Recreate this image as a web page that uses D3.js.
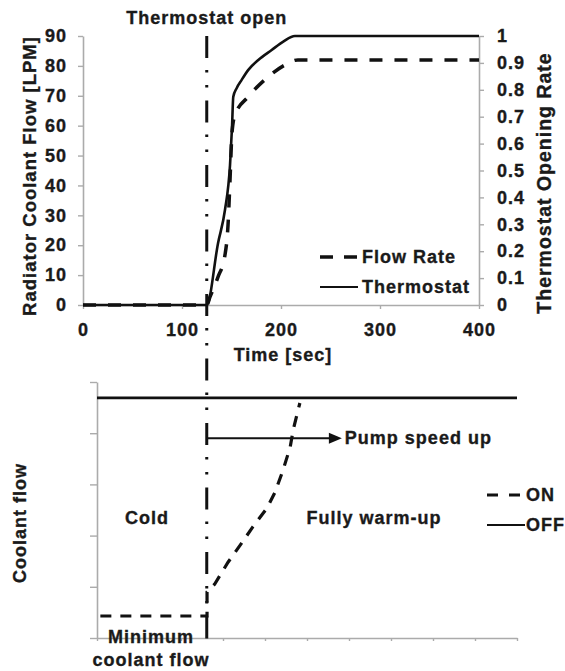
<!DOCTYPE html>
<html><head><meta charset="utf-8">
<script src="https://cdn.jsdelivr.net/npm/d3@7"></script>
<style>
html,body{margin:0;padding:0;background:#fff;}
svg{display:block;}
text{font-family:"Liberation Sans",Arial,sans-serif;font-weight:bold;fill:#1a1a1a;letter-spacing:1px;stroke:#1a1a1a;stroke-width:0.35px;}
</style></head><body>
<svg id="c" width="565" height="671"></svg>
<script>
// ---- top chart data ----
const timeTicks = [0, 100, 200, 300, 400];
const flowTicks = [0, 10, 20, 30, 40, 50, 60, 70, 80, 90];
const rateTicks = [0, 0.1, 0.2, 0.3, 0.4, 0.5, 0.6, 0.7, 0.8, 0.9, 1];
const rateTickLabels = ["0", "0.1", "0.2", "0.3", "0.4", "0.5", "0.6", "0.7", "0.8", "0.9", "1"];
const thermoTime = [0, 125, 136.4, 143.4, 148.5, 150.5, 151.8, 155.2, 160.3, 167, 177.1, 190.6, 202.3, 214, 400];
const thermoRate = [0, 0, 0.23, 0.353, 0.52, 0.66, 0.774, 0.806, 0.837, 0.874, 0.911, 0.948, 0.979, 1, 1];
const flowTime = [0, 125, 128.3, 136.4, 143.4, 146.5, 148.5, 150.5, 153.5, 166.7, 186.9, 204, 217, 400];
const flowRate = [0, 0, 2.7, 9.4, 16.7, 26.8, 41.8, 57.5, 63.6, 69.6, 76.3, 80.3, 82, 82];
const thermostatOpenTime = 125;
const topLegend = ["Flow Rate", "Thermostat"];

// ---- bottom schematic data (relative units) ----
const schemXTicks = [0, 1, 2, 3, 4, 5, 6, 7, 8, 9, 10];
const schemYTicks = [0, 1, 2, 3, 4, 5];
const onX = [0.08, 2.62, 2.62, 2.8, 3.12, 3.45, 3.71, 4.05, 4.24, 4.43, 4.6, 4.67, 4.83];
const onY = [0.43, 0.43, 0.9, 1.05, 1.48, 1.86, 2.17, 2.54, 2.85, 3.28, 3.73, 4.06, 4.59];
const offX = [0, 10];
const offY = [4.69, 4.69];
const pumpArrow = {y: 3.9, end: 5.83};
const bottomLegend = ["ON", "OFF"];

const svg = d3.select("#c");
const axisColor = "#ababab";

// ---- scales ----
const x = d3.scaleLinear().domain([0, 400]).range([83, 479]);
const yL = d3.scaleLinear().domain([0, 90]).range([305, 36]);
const yR = d3.scaleLinear().domain([0, 1]).range([305, 36]);
const xb = d3.scaleLinear().domain([0, 10]).range([97, 517]);
const yb = d3.scaleLinear().domain([0, 5]).range([638, 382]);

function styleAxis(g) {
  g.selectAll("path.domain").attr("stroke", axisColor).attr("stroke-width", 1.6);
  g.selectAll(".tick line").attr("stroke", axisColor).attr("stroke-width", 1.4);
  g.selectAll(".tick text").attr("font-size", 18).attr("fill", "#1a1a1a")
    .attr("font-family", '"Liberation Sans",Arial,sans-serif').attr("font-weight", "bold");
}

// top axes
svg.append("g").attr("transform", "translate(0,305)")
  .call(d3.axisBottom(x).tickValues(timeTicks).tickSize(4).tickPadding(14).tickSizeOuter(0))
  .call(styleAxis);
svg.append("g").attr("transform", "translate(83,0)")
  .call(d3.axisLeft(yL).tickValues(flowTicks).tickSize(5).tickPadding(11).tickSizeOuter(0))
  .call(styleAxis);
svg.append("g").attr("transform", "translate(479,0)")
  .call(d3.axisRight(yR).tickValues(rateTicks).tickFormat((d, i) => rateTickLabels[i]).tickSize(5).tickPadding(13).tickSizeOuter(0))
  .call(styleAxis);

// axis titles
svg.append("text").attr("x", 283).attr("y", 355).attr("text-anchor", "middle")
  .attr("dominant-baseline", "central").attr("font-size", 18).text("Time [sec]");
svg.append("text").attr("transform", "translate(29,176) rotate(-90)").attr("text-anchor", "middle")
  .attr("dominant-baseline", "central").attr("font-size", 18.5).text("Radiator Coolant Flow [LPM]");
svg.append("text").attr("transform", "translate(544,183) rotate(-90)").attr("text-anchor", "middle")
  .attr("dominant-baseline", "central").attr("font-size", 19.5).text("Thermostat Opening Rate");
svg.append("text").attr("x", x(thermostatOpenTime)).attr("y", 18).attr("text-anchor", "middle")
  .attr("dominant-baseline", "central").attr("font-size", 18).text("Thermostat open");

// top lines
const thermoData = thermoTime.map((t, i) => [t, thermoRate[i]]);
const flowData = flowTime.map((t, i) => [t, flowRate[i]]);
svg.append("path").datum(flowData)
  .attr("d", d3.line().x(d => x(d[0])).y(d => yL(d[1])).curve(d3.curveMonotoneX))
  .attr("fill", "none").attr("stroke", "#111").attr("stroke-width", 3.5).attr("stroke-dasharray", "13,12");
svg.append("path").datum(thermoData)
  .attr("d", d3.line().x(d => x(d[0])).y(d => yR(d[1])).curve(d3.curveMonotoneX))
  .attr("fill", "none").attr("stroke", "#111").attr("stroke-width", 2.6);

// top legend
const tl = svg.append("g");
tl.append("line").attr("x1", 320).attr("x2", 357).attr("y1", 257).attr("y2", 257)
  .attr("stroke", "#111").attr("stroke-width", 3.5).attr("stroke-dasharray", "13,11");
tl.append("text").attr("x", 362).attr("y", 257).attr("dominant-baseline", "central").attr("font-size", 18).text(topLegend[0]);
tl.append("line").attr("x1", 320).attr("x2", 358).attr("y1", 287).attr("y2", 287)
  .attr("stroke", "#111").attr("stroke-width", 2.2);
tl.append("text").attr("x", 362).attr("y", 287).attr("dominant-baseline", "central").attr("font-size", 18).text(topLegend[1]);

// ---- bottom schematic ----
svg.append("g").attr("transform", "translate(97,0)")
  .call(d3.axisLeft(yb).tickValues(schemYTicks).tickSize(7).tickFormat("").tickSizeOuter(0))
  .call(styleAxis);
svg.append("g").attr("transform", "translate(0,638)")
  .call(d3.axisBottom(xb).tickValues(schemXTicks).tickSize(3).tickFormat("").tickSizeOuter(0))
  .call(styleAxis);

// OFF line
svg.append("path").datum(offX.map((v, i) => [v, offY[i]]))
  .attr("d", d3.line().x(d => xb(d[0])).y(d => yb(d[1])))
  .attr("fill", "none").attr("stroke", "#111").attr("stroke-width", 2.6);
// ON line
svg.append("path").datum(onX.map((v, i) => [v, onY[i]]))
  .attr("d", d3.line().x(d => xb(d[0])).y(d => yb(d[1])))
  .attr("fill", "none").attr("stroke", "#111").attr("stroke-width", 3.2).attr("stroke-dasharray", "11,9");

// Thermostat open vertical dash-dot-dot line
const xo = x(thermostatOpenTime);
svg.append("line").attr("x1", xo).attr("x2", xo).attr("y1", 36).attr("y2", 640)
  .attr("stroke", "#111").attr("stroke-width", 3).attr("stroke-dasharray", "22,12,2.5,12.5,2.5,13");

// pump arrow
const ay = yb(pumpArrow.y), ax2 = xb(pumpArrow.end);
svg.append("line").attr("x1", xo).attr("x2", ax2 - 10).attr("y1", ay).attr("y2", ay)
  .attr("stroke", "#111").attr("stroke-width", 2);
svg.append("path").attr("d", `M${ax2 - 13},${ay - 5.5}L${ax2},${ay}L${ax2 - 13},${ay + 5.5}Z`).attr("fill", "#111");
svg.append("text").attr("x", ax2 + 3).attr("y", ay).attr("dominant-baseline", "central").attr("font-size", 18).text("Pump speed up");

// region labels
svg.append("text").attr("x", 147).attr("y", 518).attr("text-anchor", "middle").attr("dominant-baseline", "central").attr("font-size", 18).text("Cold");
svg.append("text").attr("x", 374).attr("y", 518).attr("text-anchor", "middle").attr("dominant-baseline", "central").attr("font-size", 18).text("Fully warm-up");
svg.append("text").attr("x", 151).attr("y", 637).attr("text-anchor", "middle").attr("dominant-baseline", "central").attr("font-size", 18).text("Minimum");
svg.append("text").attr("x", 151).attr("y", 660).attr("text-anchor", "middle").attr("dominant-baseline", "central").attr("font-size", 18).text("coolant flow");
svg.append("text").attr("transform", "translate(20,523) rotate(-90)").attr("text-anchor", "middle")
  .attr("dominant-baseline", "central").attr("font-size", 18).text("Coolant flow");

// bottom legend
const bl = svg.append("g");
bl.append("line").attr("x1", 487).attr("x2", 520).attr("y1", 495).attr("y2", 495)
  .attr("stroke", "#111").attr("stroke-width", 3.2).attr("stroke-dasharray", "11,11");
bl.append("text").attr("x", 526).attr("y", 495).attr("dominant-baseline", "central").attr("font-size", 18).text(bottomLegend[0]);
bl.append("line").attr("x1", 487).attr("x2", 525).attr("y1", 525).attr("y2", 525)
  .attr("stroke", "#111").attr("stroke-width", 2);
bl.append("text").attr("x", 526).attr("y", 525).attr("dominant-baseline", "central").attr("font-size", 18).text(bottomLegend[1]);
</script>
</body></html>
